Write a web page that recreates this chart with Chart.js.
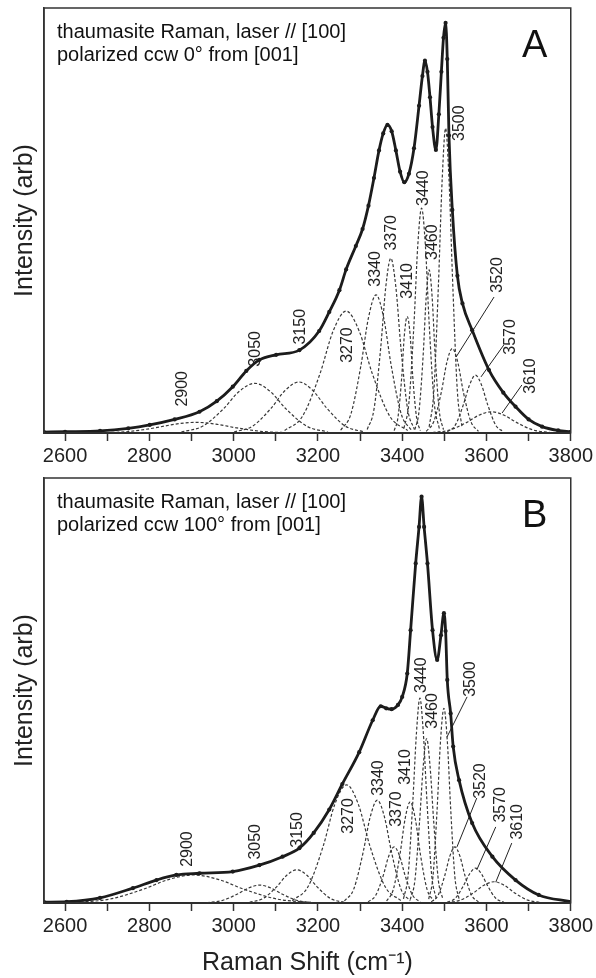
<!DOCTYPE html>
<html>
<head>
<meta charset="utf-8">
<script src="https://cdn.jsdelivr.net/npm/chart.js@4.4.1/dist/chart.umd.min.js"></script>
<style>
  body { margin: 0; background: #fff; }
  #wrap { position: relative; width: 596px; height: 978px; }
  canvas { position: absolute; left: 0; }
  #chartA { top: 0; }
  #chartB { top: 471px; }
</style>
</head>
<body>
<div id="wrap">
  <canvas id="chartA" width="596" height="471"></canvas>
  <canvas id="chartB" width="596" height="507"></canvas>
</div>
<script>
// x axis ticks (cm-1), labels only on every 200
const xTicks = [2600, 2700, 2800, 2900, 3000, 3100, 3200, 3300, 3400, 3500, 3600, 3700, 3800];
const peakNames = ["2900", "3050", "3150", "3270", "3340", "3370", "3410", "3440", "3460", "3500", "3520", "3570", "3610"];

const totalA = [[2550,0.2],[2600,0.3],[2683,0.5],[2750,1.1],[2801,1.9],[2860,3.2],[2919,5.0],[2960,7.5],[2998,10.9],[3030,14.6],[3061,17.2],[3101,18.4],[3156,19.5],[3203,24],[3227,28.5],[3251,33.6],[3267,38.5],[3290,44],[3306,48],[3320,53.5],[3333,60],[3345,66.5],[3355,70.5],[3365,72.5],[3375,71],[3385,66.5],[3395,61.5],[3405,59],[3416,61],[3428,67],[3440,77],[3448,84],[3454,87.6],[3460,85],[3466,79],[3472,72],[3480,66.6],[3487,75],[3493,85],[3498,93],[3503,96.5],[3507,88],[3511,70],[3519,52.5],[3531,37],[3543,30.5],[3566,24.2],[3606,14.8],[3640,9.5],[3669,6.2],[3700,3.2],[3732,1.5],[3770,0.6],[3800,0.3]];

// panel A - fitted components, same order as peakNames
const compsA = [
  [[2686,0.05],[2750,0.34],[2814,1.22],[2862,2.09],[2910,2.5],[2958,2.09],[3006,1.22],[3070,0.34],[3134,0.05]],
  [[2876,0.23],[2926,1.58],[2976,5.7],[3013,9.77],[3050,11.7],[3087,9.77],[3124,5.7],[3174,1.58],[3224,0.23]],
  [[3001,0.24],[3045,1.62],[3089,5.84],[3122,10.0],[3155,12],[3188,10.0],[3221,5.84],[3265,1.62],[3309,0.24]],
  [[3121,0.57],[3163,3.87],[3205,13.98],[3236,23.96],[3267,28.7],[3298,23.96],[3329,13.98],[3371,3.87],[3413,0.57]],
  [[3254,0.65],[3278,4.39],[3302,15.83],[3320,27.14],[3338,32.5],[3356,27.14],[3374,15.83],[3398,4.39],[3422,0.65]],
  [[3317,0.82],[3333,5.55],[3349,20.02],[3361,34.32],[3373,41.1],[3385,34.32],[3397,20.02],[3413,5.55],[3429,0.82]],
  [[3381,0.55],[3390,3.7],[3399,13.34],[3405,22.88],[3412,27.4],[3419,22.88],[3425,13.34],[3434,3.7],[3443,0.55]],
  [[3404,1.06],[3416,7.14],[3428,25.76],[3437,44.17],[3446,52.9],[3455,44.17],[3464,25.76],[3476,7.14],[3488,1.06]],
  [[3430,0.77],[3440,5.18],[3450,18.7],[3457,32.06],[3464,38.4],[3471,32.06],[3478,18.7],[3488,5.18],[3498,0.77]],
  [[3464,1.43],[3475,9.68],[3486,34.92],[3495,59.87],[3503,71.7],[3511,59.87],[3520,34.92],[3531,9.68],[3542,1.43]],
  [[3457,0.4],[3475,2.69],[3493,9.69],[3506,16.62],[3519,19.9],[3532,16.62],[3545,9.69],[3563,2.69],[3581,0.4]],
  [[3507,0.27],[3526,1.84],[3545,6.62],[3560,11.36],[3574,13.6],[3588,11.36],[3603,6.62],[3622,1.84],[3641,0.27]],
  [[3472,0.1],[3512,0.68],[3552,2.44],[3582,4.18],[3612,5.0],[3642,4.18],[3672,2.44],[3712,0.68],[3752,0.1]]
];
const labelPosA = [[2879,10.4],[3052,19.8],[3160,25],[3270,20.7],[3338,38.6],[3376,47.1],[3412,35.8],[3450,57.6],[3473,44.9],[3537,72.9],[3627,37.2],[3658,22.6],[3705,13.4]];
const leadersA = [
  [[3618,32],[3528,17.9]],
  [[3641,20.7],[3587,13.2]],
  [[3684,11.3],[3637,4.7]]
];

// panel B
const totalB = [[2550,0.2],[2604,0.3],[2683,1.2],[2761,3.5],[2817,5.4],[2864,6.6],[2919,7.0],[2998,7.4],[3061,8.9],[3116,10.9],[3156,12.9],[3190,16.5],[3227,22],[3258,28],[3298,35.5],[3330,43],[3349,46.3],[3362,45.8],[3375,45.6],[3390,46.6],[3400,48.5],[3412,54],[3420,64.2],[3432,79.9],[3440,88.5],[3446,95.6],[3452,88.5],[3460,79.9],[3472,64.2],[3483,57.2],[3492,63],[3499,68.2],[3503,64],[3507,52.5],[3515,44.6],[3521,36.8],[3535,28.9],[3566,18.8],[3614,10.9],[3669,5.4],[3724,1.9],[3800,0.3]];
const compsB = [
  [[2625,0.13],[2705,0.89],[2785,3.21],[2845,5.51],[2905,6.6],[2965,5.51],[3025,3.21],[3105,0.89],[3185,0.13]],
  [[2936,0.08],[2972,0.57],[3008,2.05],[3035,3.51],[3062,4.2],[3089,3.51],[3116,2.05],[3152,0.57],[3188,0.08]],
  [[3038,0.16],[3070,1.05],[3102,3.8],[3126,6.51],[3150,7.8],[3174,6.51],[3198,3.8],[3230,1.05],[3262,0.16]],
  [[3139,0.56],[3176,3.75],[3213,13.54],[3240,23.21],[3268,27.8],[3296,23.21],[3323,13.54],[3360,3.75],[3397,0.56]],
  [[3263,0.48],[3285,3.27],[3307,11.79],[3324,20.21],[3341,24.2],[3358,20.21],[3375,11.79],[3397,3.27],[3419,0.48]],
  [[3319,0.26],[3337,1.78],[3355,6.43],[3368,11.02],[3381,13.2],[3394,11.02],[3407,6.43],[3425,1.78],[3443,0.26]],
  [[3363,0.48],[3379,3.21],[3395,11.59],[3407,19.87],[3419,23.8],[3431,19.87],[3443,11.59],[3459,3.21],[3475,0.48]],
  [[3403,0.96],[3414,6.51],[3425,23.47],[3434,40.25],[3442,48.2],[3450,40.25],[3459,23.47],[3470,6.51],[3481,0.96]],
  [[3419,0.77],[3430,5.22],[3441,18.85],[3450,32.31],[3458,38.7],[3466,32.31],[3475,18.85],[3486,5.22],[3497,0.77]],
  [[3463,0.92],[3473,6.18],[3483,22.3],[3491,38.24],[3499,45.8],[3507,38.24],[3515,22.3],[3525,6.18],[3535,0.92]],
  [[3469,0.26],[3485,1.78],[3501,6.43],[3513,11.02],[3525,13.2],[3537,11.02],[3549,6.43],[3565,1.78],[3581,0.26]],
  [[3507,0.16],[3526,1.11],[3545,3.99],[3560,6.85],[3574,8.2],[3588,6.85],[3603,3.99],[3622,1.11],[3641,0.16]],
  [[3506,0.1],[3538,0.68],[3570,2.44],[3594,4.18],[3618,5.0],[3642,4.18],[3666,2.44],[3698,0.68],[3730,0.1]]
];
const labelPosB = [[2891,12.7],[3052,14.4],[3151,17.2],[3272,20.5],[3343,29.4],[3386,22.1],[3409,32],[3445,53.6],[3473,45.2],[3563,52.7],[3587,28.7],[3634,23.1],[3675,19.1]];
const leadersB = [
  [[3554,48.5],[3506,39]],
  [[3577,24.7],[3530,13.2]],
  [[3622,17.9],[3577,7.8]],
  [[3660,14.1],[3622,4.9]]
];

const FONT = "'Liberation Sans', Arial, Helvetica, sans-serif";
Chart.defaults.font.family = FONT;

function pts(arr) {
  return arr.map(p => ({ x: p[0], y: p[1] }));
}

function makePanel(id, total, comps, labelPos, leaders, caption, letter, padTop, xTitle) {
  const datasets = [];
  // total first so it is drawn on top
  datasets.push({
    data: pts(total),
    borderColor: "#1c1c1c",
    borderWidth: 2.8,
    pointRadius: 2.1,
    pointBackgroundColor: "#1c1c1c",
    pointBorderWidth: 0,
    cubicInterpolationMode: "monotone"
  });
  leaders.forEach(l => {
    datasets.push({ data: pts(l), borderColor: "#222", borderWidth: 1, pointRadius: 0 });
  });
  comps.forEach(c => {
    datasets.push({
      data: pts(c),
      borderColor: "#383838",
      borderWidth: 1.2,
      borderDash: [3, 2],
      pointRadius: 0,
      cubicInterpolationMode: "monotone"
    });
  });

  const decor = {
    id: "decor" + id,
    afterDatasetsDraw(chart) {
      const ctx = chart.ctx;
      const a = chart.chartArea;
      const sx = chart.scales.x, sy = chart.scales.y;
      ctx.save();
      // peak labels
      ctx.fillStyle = "#222";
      ctx.font = "16px " + FONT;
      ctx.textAlign = "center";
      ctx.textBaseline = "middle";
      peakNames.forEach((n, i) => {
        const px = sx.getPixelForValue(labelPos[i][0]);
        const py = sy.getPixelForValue(labelPos[i][1]);
        ctx.save();
        ctx.translate(px, py);
        ctx.rotate(-Math.PI / 2);
        ctx.fillText(n, 0, 0);
        ctx.restore();
      });
      // caption
      ctx.textAlign = "left";
      ctx.font = "20px " + FONT;
      ctx.fillStyle = "#111";
      ctx.fillText(caption[0], a.left + 13, a.top + 24);
      ctx.fillText(caption[1], a.left + 13, a.top + 47);
      // panel letter
      ctx.textAlign = "center";
      ctx.font = "38px " + FONT;
      ctx.fillText(letter, a.right - 36, a.top + 39);
      // frame
      ctx.strokeStyle = "#333";
      ctx.lineWidth = 1.5;
      ctx.strokeRect(a.left, a.top, a.right - a.left, a.bottom - a.top);
      ctx.restore();
    }
  };

  return new Chart(document.getElementById(id), {
    type: "line",
    data: { datasets },
    options: {
      responsive: false,
      animation: false,
      layout: { padding: { left: 6, right: 24, top: padTop, bottom: 0 } },
      plugins: { legend: { display: false }, tooltip: { enabled: false } },
      scales: {
        x: {
          type: "linear",
          min: 2550,
          max: 3800,
          afterBuildTicks: s => { s.ticks = xTicks.map(v => ({ value: v })); },
          ticks: {
            callback: v => (v % 200 === 0 ? String(v) : ""),
            font: { size: 20 },
            color: "#222",
            padding: 3,
            maxRotation: 0,
            autoSkip: false
          },
          grid: { drawOnChartArea: false, drawTicks: true, tickLength: 8, tickColor: "#333", tickWidth: 1.5 },
          border: { display: true, color: "#222", width: 2 },
          title: xTitle
            ? { display: true, text: xTitle, font: { size: 25 }, color: "#222", padding: { top: 7, bottom: 0 } }
            : { display: false }
        },
        y: {
          min: 0,
          max: 100,
          ticks: { display: false },
          grid: { display: false, drawTicks: false },
          border: { display: true, color: "#333", width: 1.5 },
          title: { display: true, text: "Intensity (arb)", font: { size: 25 }, color: "#222", padding: { top: 4, bottom: 4 } }
        }
      }
    },
    plugins: [decor]
  });
}

makePanel("chartA", totalA, compsA, labelPosA, leadersA,
  ["thaumasite Raman, laser // [100]", "polarized ccw 0\u00b0 from [001]"], "A", 8, null);
makePanel("chartB", totalB, compsB, labelPosB, leadersB,
  ["thaumasite Raman, laser // [100]", "polarized ccw 100\u00b0 from [001]"], "B", 7, "Raman Shift (cm\u207b\u00b9)");
</script>
</body>
</html>
